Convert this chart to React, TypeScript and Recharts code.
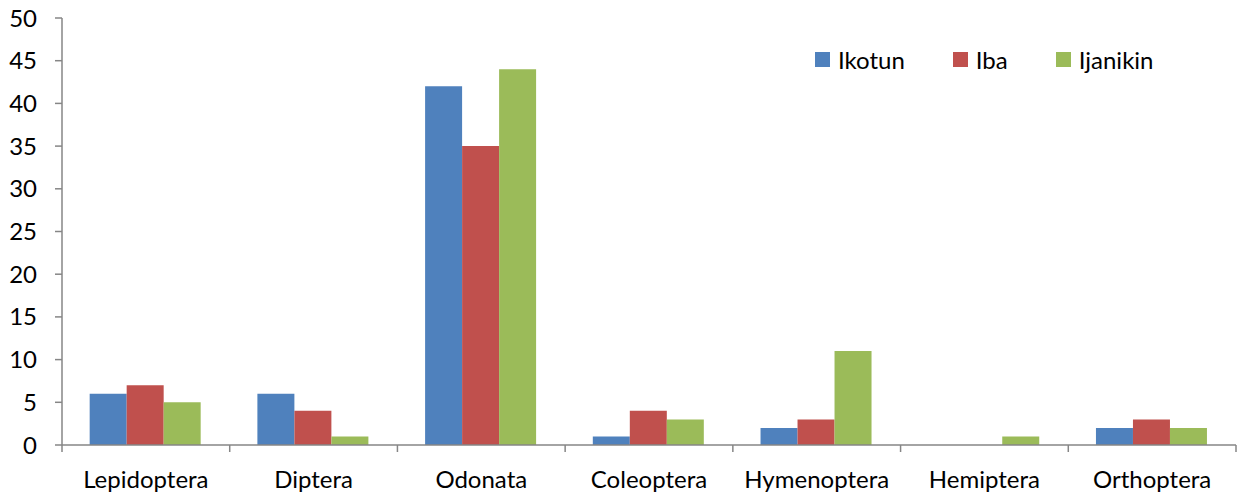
import React from "react";
import { BarChart, Bar, XAxis, YAxis } from "recharts";

const categories = ["Lepidoptera", "Diptera", "Odonata", "Coleoptera", "Hymenoptera", "Hemiptera", "Orthoptera"];
const ikotun = [6, 6, 42, 1, 2, 0, 2];
const iba = [7, 4, 35, 4, 3, 0, 3];
const ijanikin = [5, 1, 44, 3, 11, 1, 2];
const yTicks = [0, 5, 10, 15, 20, 25, 30, 35, 40, 45, 50];

const seriesNames = ["Ikotun", "Iba", "Ijanikin"];
const colors = ["#4F81BD", "#C0504D", "#9BBB59"];

const data = categories.map((c, i) => ({ name: c, Ikotun: ikotun[i], Iba: iba[i], Ijanikin: ijanikin[i] }));

const W = 1237;
const H = 493;
const M = { top: 18, right: 1, left: 0, bottom: 0 };
const Y_W = 62;
const X_H = 48;
const FONT = "Lato, 'Open Sans', sans-serif";
const FS = 24;
const AXIS = "#868686";
const plotW = W - M.left - M.right - Y_W;
const band = plotW / categories.length;

const XTick = (props: any) => {
  const { x, y, payload, index } = props;
  const axisY = y - 8;
  const left = x - band / 2;
  const right = x + band / 2;
  return (
    <g>
      <line x1={left} x2={left} y1={axisY} y2={axisY + 7} stroke={AXIS} strokeWidth={1.5} />
      {index === categories.length - 1 && (
        <line x1={right} x2={right} y1={axisY} y2={axisY + 7} stroke={AXIS} strokeWidth={1.5} />
      )}
      <text x={x} y={axisY + 43} textAnchor="middle" fill="#000" fontSize={FS} fontFamily={FONT}>
        {payload.value}
      </text>
    </g>
  );
};

const LegendContent = () => (
  <div style={{ display: "flex", alignItems: "center", fontFamily: FONT, fontSize: FS, color: "#000" }}>
    {seriesNames.map((n, i) => (
      <div key={n} style={{ display: "flex", alignItems: "center", marginRight: 48 }}>
        <span style={{ width: 15, height: 15, background: colors[i], display: "inline-block", marginRight: 8 }} />
        <span>{n}</span>
      </div>
    ))}
  </div>
);

export default function App() {
  return (
    <div style={{ position: "absolute", left: 0, top: 0, width: W, height: H, background: "#fff" }}>
      <BarChart width={W} height={H} data={data} margin={M} barCategoryGap="16.5%" barGap={0}>
        <XAxis
          dataKey="name"
          height={X_H}
          tickLine={false}
          axisLine={{ stroke: AXIS, strokeWidth: 1.5 }}
          tick={<XTick />}
          interval={0}
        />
        <YAxis
          width={Y_W}
          domain={[0, 50]}
          ticks={yTicks}
          interval={0}
          tickSize={7}
          tickMargin={18}
          tickLine={{ stroke: AXIS, strokeWidth: 1.5 }}
          axisLine={{ stroke: AXIS, strokeWidth: 1.5 }}
          tick={{ fill: "#000", fontSize: FS, fontFamily: FONT }}
        />
        {seriesNames.map((n, i) => (
          <Bar key={n} dataKey={n} fill={colors[i]} isAnimationActive={false} />
        ))}
      </BarChart>
      <div style={{ position: "absolute", left: 815, top: 45 }}>
        <LegendContent />
      </div>
    </div>
  );
}
